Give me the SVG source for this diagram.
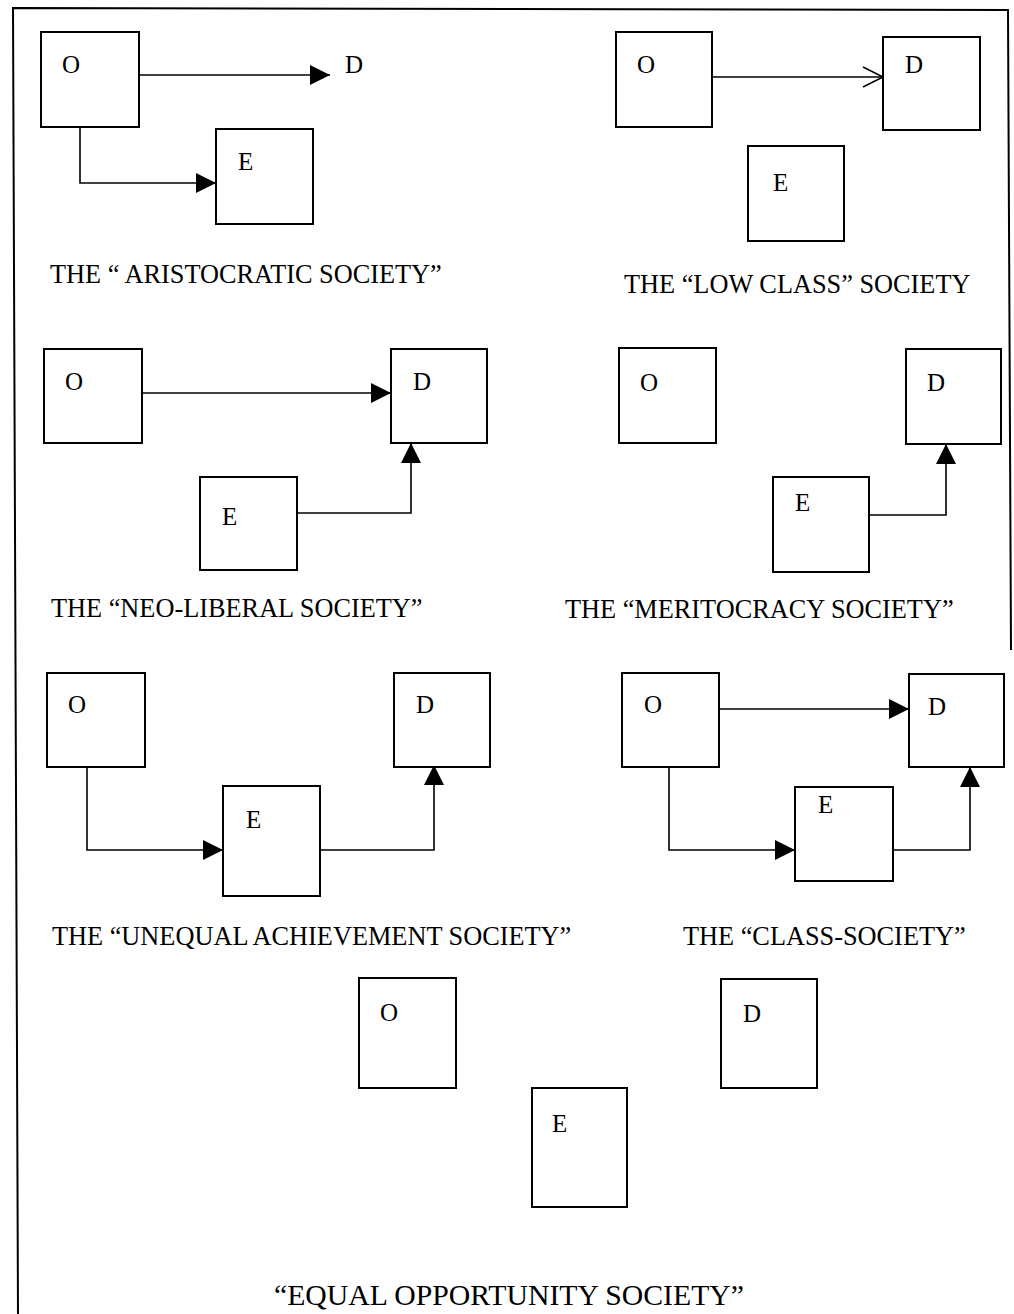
<svg xmlns="http://www.w3.org/2000/svg" width="1014" height="1314" viewBox="0 0 1014 1314">
<style>
.box{fill:#fff;stroke:#000;stroke-width:2}
.lbl{font-family:"Liberation Serif","Times New Roman",serif;font-size:25px;fill:#000}
.cap{font-family:"Liberation Serif","Times New Roman",serif;font-size:26.3px;fill:#000}
.con{fill:none;stroke:#000;stroke-width:1.6}
.frame{fill:none;stroke:#000;stroke-width:2}
</style>
<defs>
<marker id="ah" viewBox="0 0 20 20" refX="20" refY="10" markerWidth="20" markerHeight="20" markerUnits="userSpaceOnUse" orient="auto"><path d="M0,0 L20,10 L0,20 z" fill="#000"/></marker>
<marker id="open" viewBox="-2 -2 24 24" refX="20" refY="10" markerWidth="24" markerHeight="24" markerUnits="userSpaceOnUse" orient="auto"><path d="M0,0 L20,10 L0,20" fill="none" stroke="#000" stroke-width="1.5"/></marker>
</defs>
<rect width="1014" height="1314" fill="#fff"/>
<g id="frame">
<path class="frame" d="M18,1314 L13,8 L1008,10 L1011,650"/>
</g>

<g id="connectors">
<!-- panel 1 -->
<path class="con" d="M139,75 H330" marker-end="url(#ah)"/>
<path class="con" d="M80,127 V183 H216" marker-end="url(#ah)"/>
<!-- panel 2 -->
<path class="con" d="M712,77 H883" marker-end="url(#open)"/>
<!-- panel 3 -->
<path class="con" d="M142,393 H391" marker-end="url(#ah)"/>
<path class="con" d="M297,513 H411 V443" marker-end="url(#ah)"/>
<!-- panel 4 -->
<path class="con" d="M869,515 H946 V444" marker-end="url(#ah)"/>
<!-- panel 5 -->
<path class="con" d="M87,767 V850 H223" marker-end="url(#ah)"/>
<path class="con" d="M320,850 H434 V765" marker-end="url(#ah)"/>
<!-- panel 6 -->
<path class="con" d="M719,709 H909" marker-end="url(#ah)"/>
<path class="con" d="M669,767 V850 H795" marker-end="url(#ah)"/>
<path class="con" d="M893,850 H970 V767" marker-end="url(#ah)"/>
</g>

<!-- Panel 1: aristocratic -->
<g id="p1-O"><rect class="box" x="41" y="32" width="98" height="95"/><text class="lbl" x="62" y="73">O</text></g>
<g id="p1-D"><text class="lbl" x="345" y="73">D</text></g>
<g id="p1-E"><rect class="box" x="216" y="129" width="97" height="95"/><text class="lbl" x="238" y="170">E</text></g>
<text class="cap" x="50" y="283">THE “ ARISTOCRATIC SOCIETY”</text>

<!-- Panel 2: low class -->
<g id="p2-O"><rect class="box" x="616" y="32" width="96" height="95"/><text class="lbl" x="637" y="73">O</text></g>
<g id="p2-D"><rect class="box" x="883" y="37" width="97" height="93"/><text class="lbl" x="905" y="73">D</text></g>
<g id="p2-E"><rect class="box" x="748" y="146" width="96" height="95"/><text class="lbl" x="773" y="191">E</text></g>
<text class="cap" x="624" y="293">THE “LOW CLASS” SOCIETY</text>

<!-- Panel 3: neo-liberal -->
<g id="p3-O"><rect class="box" x="44" y="349" width="98" height="94"/><text class="lbl" x="65" y="390">O</text></g>
<g id="p3-D"><rect class="box" x="391" y="349" width="96" height="94"/><text class="lbl" x="413" y="390">D</text></g>
<g id="p3-E"><rect class="box" x="200" y="477" width="97" height="93"/><text class="lbl" x="222" y="525">E</text></g>
<text class="cap" x="51" y="617">THE “NEO-LIBERAL SOCIETY”</text>

<!-- Panel 4: meritocracy -->
<g id="p4-O"><rect class="box" x="619" y="348" width="97" height="95"/><text class="lbl" x="640" y="391">O</text></g>
<g id="p4-D"><rect class="box" x="906" y="349" width="95" height="95"/><text class="lbl" x="927" y="391">D</text></g>
<g id="p4-E"><rect class="box" x="773" y="477" width="96" height="95"/><text class="lbl" x="795" y="511">E</text></g>
<text class="cap" x="565" y="618">THE “MERITOCRACY SOCIETY”</text>

<!-- Panel 5: unequal achievement -->
<g id="p5-O"><rect class="box" x="47" y="673" width="98" height="94"/><text class="lbl" x="68" y="713">O</text></g>
<g id="p5-D"><rect class="box" x="394" y="673" width="96" height="94"/><text class="lbl" x="416" y="713">D</text></g>
<g id="p5-E"><rect class="box" x="223" y="786" width="97" height="110"/><text class="lbl" x="246" y="828">E</text></g>
<text class="cap" x="52" y="945">THE “UNEQUAL ACHIEVEMENT SOCIETY”</text>

<!-- Panel 6: class society -->
<g id="p6-O"><rect class="box" x="622" y="673" width="97" height="94"/><text class="lbl" x="644" y="713">O</text></g>
<g id="p6-D"><rect class="box" x="909" y="674" width="95" height="93"/><text class="lbl" x="928" y="715">D</text></g>
<g id="p6-E"><rect class="box" x="795" y="787" width="98" height="94"/><text class="lbl" x="818" y="813">E</text></g>
<text class="cap" x="683" y="945">THE “CLASS-SOCIETY”</text>

<!-- Panel 7: equal opportunity -->
<g id="p7-O"><rect class="box" x="359" y="978" width="97" height="110"/><text class="lbl" x="380" y="1021">O</text></g>
<g id="p7-D"><rect class="box" x="721" y="979" width="96" height="109"/><text class="lbl" x="743" y="1022">D</text></g>
<g id="p7-E"><rect class="box" x="532" y="1088" width="95" height="119"/><text class="lbl" x="552" y="1132">E</text></g>
<text class="cap" x="274" y="1305" style="font-size:29px" textLength="470" lengthAdjust="spacingAndGlyphs">“EQUAL OPPORTUNITY SOCIETY”</text>
</svg>
